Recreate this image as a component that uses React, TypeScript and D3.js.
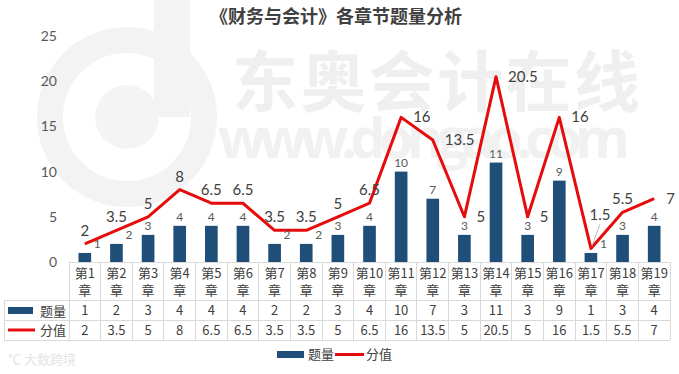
import { useEffect, useRef } from 'react';
import * as d3 from 'd3';

const title = '《财务与会计》各章节题量分析';
const chapters = ['第1', '第2', '第3', '第4', '第5', '第6', '第7', '第8', '第9', '第10',
  '第11', '第12', '第13', '第14', '第15', '第16', '第17', '第18', '第19'];
const questionCounts = [1, 2, 3, 4, 4, 4, 2, 2, 3, 4, 10, 7, 3, 11, 3, 9, 1, 3, 4];
const scores = [2, 3.5, 5, 8, 6.5, 6.5, 3.5, 3.5, 5, 6.5, 16, 13.5, 5, 20.5, 5, 16, 1.5, 5.5, 7];
const yTicks = [0, 5, 10, 15, 20, 25];
const seriesNames = ['题量', '分值'];

const W = 679;
const H = 374;
const BAR = '#1f4e79';
const LINE = '#e60c0c';
const GRID = '#d9d9d9';

const fmt = (v: number) => (Number.isInteger(v) ? String(v) : v.toFixed(1));

const App = () => {
  const svgRef = useRef<SVGSVGElement>(null);

  useEffect(() => {
    const svg = d3.select(svgRef.current);
    svg.selectAll('*').remove();

    const left = 69, right = 670, top = 36, base = 262;
    const x = d3.scaleBand().domain(chapters).range([left, right]).paddingInner(0);
    const y = d3.scaleLinear().domain([0, 25]).range([base, top]);
    const bw = x.bandwidth() * 0.4;
    const cx = (i: number) => (x(chapters[i]) as number) + x.bandwidth() / 2;

    // watermark (background image in the original)
    const wm = svg.append('g');
    wm.append('circle').attr('cx', 127).attr('cy', 117).attr('r', 77)
      .attr('fill', 'none').attr('stroke', '#f3f3f3').attr('stroke-width', 26);
    wm.append('rect').attr('x', 154).attr('y', 0).attr('width', 36).attr('height', 117).attr('fill', '#f3f3f3');
    wm.append('circle').attr('cx', 127).attr('cy', 117).attr('r', 32).attr('fill', '#f4f4f4');
    wm.append('text').attr('x', 232).attr('y', 106).attr('font-size', 66).attr('font-weight', 700)
      .attr('font-family', '"Noto Sans CJK SC", sans-serif').attr('fill', '#efefef')
      .attr('textLength', 408).text('东奥会计在线');
    wm.append('text').attr('x', 218).attr('y', 158).attr('font-size', 56).attr('font-weight', 700)
      .attr('font-family', '"Open Sans", sans-serif').attr('fill', '#f1f1f1')
      .attr('textLength', 412).text('www.dongao.com');
    wm.append('text').attr('x', 8).attr('y', 364).attr('font-size', 13)
      .attr('font-family', '"Noto Sans CJK SC", sans-serif').attr('fill', '#e4e4e4').text('℃ 大数跨境');

    // title
    svg.append('text').attr('x', 336).attr('y', 23).attr('text-anchor', 'middle')
      .attr('font-size', 18).attr('font-weight', 700)
      .attr('font-family', '"Noto Sans CJK SC", sans-serif').attr('fill', '#404040').text(title);

    // y axis labels
    svg.append('g').selectAll('text').data(yTicks).join('text')
      .attr('x', 57).attr('y', d => y(d) + 5).attr('text-anchor', 'end')
      .attr('font-size', 14).attr('font-family', 'Lato, sans-serif').attr('fill', '#595959')
      .text(d => d);

    // bars
    svg.append('g').selectAll('rect').data(questionCounts).join('rect')
      .attr('x', (_, i) => cx(i) - bw / 2).attr('y', d => y(d))
      .attr('width', bw).attr('height', d => base - y(d)).attr('fill', BAR);

    // line
    const line = d3.line<number>().x((_, i) => cx(i)).y(d => y(d));
    svg.append('path').datum(scores).attr('d', line)
      .attr('fill', 'none').attr('stroke', LINE).attr('stroke-width', 3).attr('stroke-linejoin', 'round');

    // bar labels
    svg.append('g').selectAll('text').data(questionCounts).join('text')
      .each(function (d, i) {
        const near = y(d) - y(scores[i]) < 16;
        d3.select(this)
          .attr('x', near ? cx(i) + 9 : cx(i))
          .attr('y', y(d) - 5)
          .attr('text-anchor', near ? 'start' : 'middle');
      })
      .attr('font-size', 12).attr('font-family', 'Lato, sans-serif').attr('fill', '#595959')
      .text(d => d);

    // line labels: beside steep points, above the rest, lifted with a leader when sitting on the bar
    const n = scores.length;
    const lg0 = svg.append('g');
    scores.forEach((d, i) => {
      const dp = i > 0 ? Math.abs(d - scores[i - 1]) : 0;
      const dn = i < n - 1 ? Math.abs(d - scores[i + 1]) : 0;
      const onBar = d - questionCounts[i] < 1;
      const side = !onBar && (i === n - 1 || (dp >= 2.5 && dn >= 2.5 && Math.max(dp, dn) >= 7));
      let tx = cx(i), ty = y(d) - 8, anchor = 'middle';
      if (side) { tx = cx(i) + 12; ty = y(d) + 5; anchor = 'start'; }
      if (onBar) {
        tx = cx(i) + 9; ty = y(d) - 28;
        lg0.append('line').attr('x1', cx(i) + 1).attr('y1', y(d) - 2).attr('x2', cx(i) + 9).attr('y2', ty + 4)
          .attr('stroke', '#a6a6a6').attr('stroke-width', 0.8);
      }
      lg0.append('text').attr('x', tx).attr('y', ty).attr('text-anchor', anchor)
        .attr('font-size', 15).attr('font-family', 'Lato, sans-serif').attr('fill', '#404040')
        .text(fmt(d));
    });

    // data table
    const rows = [base, 300, 320, 340];
    const tg = svg.append('g');
    const lineAttrs = (sel: any) => sel.attr('stroke', GRID).attr('stroke-width', 1).attr('shape-rendering', 'crispEdges');
    tg.append('line').attr('x1', left).attr('x2', right).attr('y1', base).attr('y2', base).call(lineAttrs);
    rows.slice(1).forEach(r => {
      tg.append('line').attr('x1', 4).attr('x2', right).attr('y1', r).attr('y2', r).call(lineAttrs);
    });
    [left, ...chapters.map(c => (x(c) as number) + x.bandwidth())].forEach(xx => {
      tg.append('line').attr('x1', xx).attr('x2', xx).attr('y1', base).attr('y2', 340).call(lineAttrs);
    });
    tg.append('line').attr('x1', 4).attr('x2', 4).attr('y1', 300).attr('y2', 340).call(lineAttrs);

    const cellText = (sel: any) => sel.attr('text-anchor', 'middle').attr('font-size', 13)
      .attr('font-family', '"Noto Sans CJK SC", Lato, sans-serif').attr('fill', '#404040');
    chapters.forEach((c, i) => {
      tg.append('text').attr('x', cx(i)).attr('y', 278).text(c).call(cellText);
      tg.append('text').attr('x', cx(i)).attr('y', 295).text('章').call(cellText);
      tg.append('text').attr('x', cx(i)).attr('y', 315).text(questionCounts[i]).call(cellText);
      tg.append('text').attr('x', cx(i)).attr('y', 335).text(fmt(scores[i])).call(cellText);
    });
    tg.append('rect').attr('x', 8).attr('y', 307).attr('width', 25).attr('height', 7).attr('fill', BAR);
    tg.append('line').attr('x1', 8).attr('x2', 35).attr('y1', 330).attr('y2', 330)
      .attr('stroke', LINE).attr('stroke-width', 3);
    tg.append('text').attr('x', 53).attr('y', 316).text(seriesNames[0]).call(cellText);
    tg.append('text').attr('x', 53).attr('y', 335).text(seriesNames[1]).call(cellText);

    // legend
    const lg = svg.append('g').attr('font-size', 13).attr('font-family', '"Noto Sans CJK SC", sans-serif').attr('fill', '#404040');
    lg.append('rect').attr('x', 277).attr('y', 351).attr('width', 27).attr('height', 7).attr('fill', BAR);
    lg.append('text').attr('x', 308).attr('y', 359).text(seriesNames[0]);
    lg.append('line').attr('x1', 335).attr('x2', 364).attr('y1', 354.5).attr('y2', 354.5)
      .attr('stroke', LINE).attr('stroke-width', 3);
    lg.append('text').attr('x', 366).attr('y', 359).text(seriesNames[1]);
  }, []);

  return (
    <svg ref={svgRef} width={W} height={H}
      style={{ position: 'absolute', left: 0, top: 0, background: '#fff' }} />
  );
};

export default App;
